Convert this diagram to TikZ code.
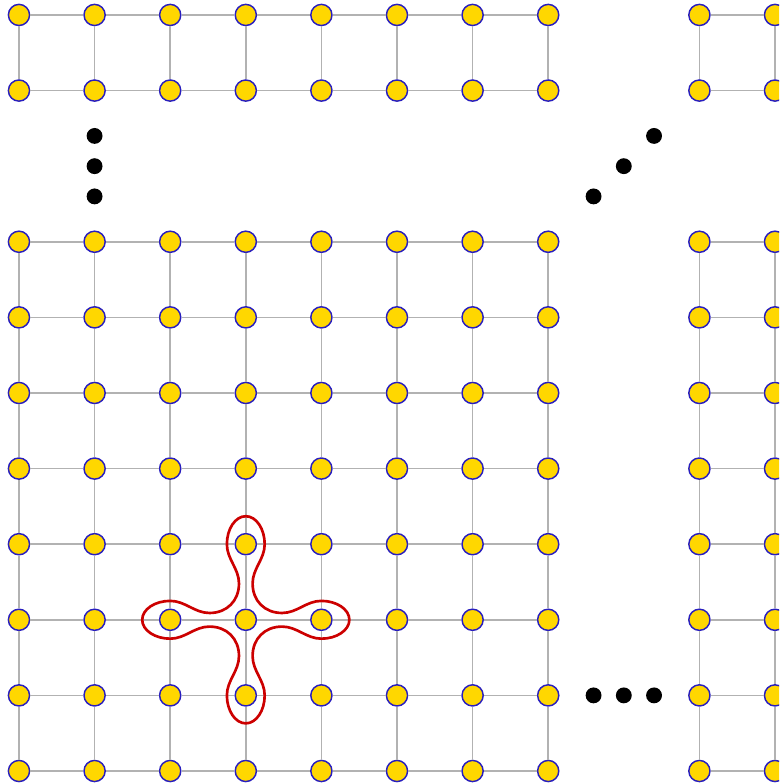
\documentclass[tikz,border=0pt]{standalone}
\usepackage{tikz}
\definecolor{sitefill}{RGB}{255,215,0}
\definecolor{siteline}{RGB}{40,30,190}
\definecolor{loopred}{RGB}{204,0,0}

\begin{document}
\begin{tikzpicture}[
    site/.style={circle,draw=siteline,fill=sitefill,line width=0.55pt,minimum size=0.28cm,inner sep=0pt},
    bond/.style={draw=gray!60,line width=0.6pt},
    ddot/.style={circle,fill=black,minimum size=0.21cm,inner sep=0pt},
    plaq/.style={draw=loopred,line width=1pt}]
\clip (-0.251,-0.172) rectangle (10.053,10.198);

% lattice sites
\foreach \x in {0,...,7,9,10}
  \foreach \y in {0,...,7,9,10}
    \node[site] (n-\x-\y) at (\x,\y) {};

% bonds
\foreach \y in {0,...,7,9,10}
  \foreach \x/\nx in {0/1,1/2,2/3,3/4,4/5,5/6,6/7,9/10}
    \draw[bond] (n-\x-\y) -- (n-\nx-\y);
\foreach \x in {0,...,7,9,10}
  \foreach \y/\ny in {0/1,1/2,2/3,3/4,4/5,5/6,6/7,9/10}
    \draw[bond] (n-\x-\y) -- (n-\x-\ny);

% ellipsis dots
\node[ddot] (v1) at (1,8.4) {};
\node[ddot] (v2) at (1,8) {};
\node[ddot] (v3) at (1,7.6) {};
\node[ddot] (d1) at (7.6,7.6) {};
\node[ddot] (d2) at (8,8) {};
\node[ddot] (d3) at (8.4,8.4) {};
\node[ddot] (h1) at (7.6,1) {};
\node[ddot] (h2) at (8,1) {};
\node[ddot] (h3) at (8.4,1) {};

% star operator loop round n-3-2
\draw[plaq,shift={(3,2)}]
  (0.48,-0.09) .. controls (0.68,-0.09) and (0.8,-0.25) .. (1.0,-0.25)
  .. controls (1.2,-0.25) and (1.37,-0.14) .. (1.37,0)
  .. controls (1.37,0.14) and (1.2,0.25) .. (1.0,0.25)
  .. controls (0.8,0.25) and (0.68,0.09) .. (0.48,0.09)
  .. controls (0.25,0.09) and (0.09,0.25) .. (0.09,0.48)
  .. controls (0.09,0.68) and (0.25,0.8) .. (0.25,1.0)
  .. controls (0.25,1.2) and (0.14,1.37) .. (0,1.37)
  .. controls (-0.14,1.37) and (-0.25,1.2) .. (-0.25,1.0)
  .. controls (-0.25,0.8) and (-0.09,0.68) .. (-0.09,0.48)
  .. controls (-0.09,0.25) and (-0.25,0.09) .. (-0.48,0.09)
  .. controls (-0.68,0.09) and (-0.8,0.25) .. (-1.0,0.25)
  .. controls (-1.2,0.25) and (-1.37,0.14) .. (-1.37,0)
  .. controls (-1.37,-0.14) and (-1.2,-0.25) .. (-1.0,-0.25)
  .. controls (-0.8,-0.25) and (-0.68,-0.09) .. (-0.48,-0.09)
  .. controls (-0.25,-0.09) and (-0.09,-0.25) .. (-0.09,-0.48)
  .. controls (-0.09,-0.68) and (-0.25,-0.8) .. (-0.25,-1.0)
  .. controls (-0.25,-1.2) and (-0.14,-1.37) .. (0,-1.37)
  .. controls (0.14,-1.37) and (0.25,-1.2) .. (0.25,-1.0)
  .. controls (0.25,-0.8) and (0.09,-0.68) .. (0.09,-0.48)
  .. controls (0.09,-0.25) and (0.25,-0.09) .. (0.48,-0.09) -- cycle;
\end{tikzpicture}
\end{document}
